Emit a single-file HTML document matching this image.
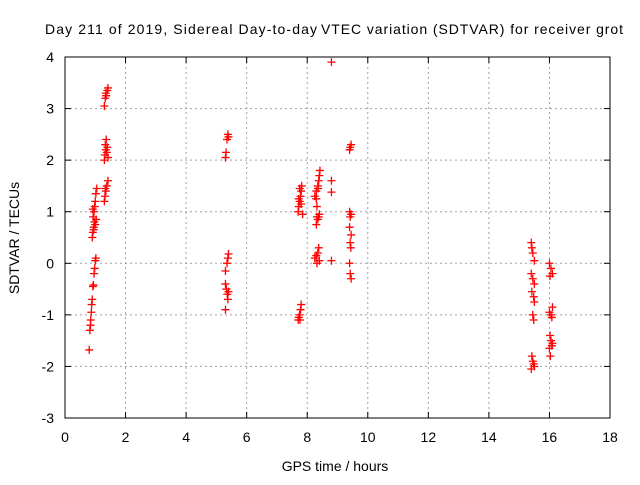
<!DOCTYPE html>
<html><head><meta charset="utf-8"><style>
body{margin:0;background:#fff;overflow:hidden}
svg text{font-family:"Liberation Sans",sans-serif;font-size:14px;fill:#000}
</style></head><body>
<svg id="chart" width="640" height="480" xmlns="http://www.w3.org/2000/svg">
<g>
<text x="45" y="34" textLength="272" lengthAdjust="spacing">Day 211 of 2019, Sidereal Day-to-day</text>
<text x="321" y="34" textLength="302" lengthAdjust="spacing">VTEC variation (SDTVAR) for receiver grot</text>
</g>
<text transform="translate(19,238) rotate(-90)" text-anchor="middle">SDTVAR / TECUs</text>
<text x="335" y="471" text-anchor="middle">GPS time / hours</text>
<g id="grid"></g>
<g id="ticks"></g>
<rect x="65" y="57" width="545" height="361" fill="none" stroke="#000" stroke-width="1"/>
<g id="points"></g>
</svg>
<script>
const xTicks=[0,2,4,6,8,10,12,14,16,18];
const yTicks=[-3,-2,-1,0,1,2,3,4];
const xVals=[0.80,0.82,0.84,0.85,0.87,0.88,0.9,0.92,0.94,0.96,0.98,1.0,1.02,0.9,0.92,0.95,0.97,0.93,0.96,0.98,1.0,1.02,1.05,0.95,1.0,1.03,0.92,
1.3,1.32,1.35,1.38,1.42,1.33,1.3,1.32,1.35,1.38,1.4,1.42,1.33,1.36,1.3,1.33,1.36,1.4,1.42,1.35,
5.3,5.32,5.35,5.38,5.4,5.3,5.35,5.38,5.4,5.3,5.33,5.36,5.38,5.3,5.4,
7.7,7.72,7.75,7.78,7.8,7.82,7.75,7.72,7.8,7.85,7.7,7.72,7.75,7.78,7.8,7.76,
8.25,8.3,8.35,8.38,8.4,8.42,8.3,8.36,8.32,8.3,8.35,8.38,8.4,8.32,8.25,8.3,8.35,8.38,8.4,8.32,
8.8,8.8,8.8,8.8,
9.4,9.45,9.42,9.4,9.42,9.45,9.4,9.45,9.42,9.44,9.4,9.42,9.45,
15.4,15.42,15.45,15.5,15.4,15.45,15.5,15.42,15.48,15.5,15.45,15.48,15.42,15.45,15.5,15.4,15.48,
16.0,16.05,16.1,16.02,16.0,16.05,16.08,16.1,16.02,16.05,16.08,16.1,16.0,16.03];
const yVals=[-1.68,-1.3,-1.2,-1.1,-0.95,-0.8,-0.7,-0.45,-0.42,-0.2,-0.1,0.05,0.1,0.5,0.6,0.7,0.8,0.9,1.0,1.1,1.2,1.35,1.45,0.65,0.75,0.85,1.05,
1.2,1.3,1.4,1.5,1.6,1.45,2.0,2.1,2.2,2.15,2.25,2.05,2.3,2.4,3.05,3.2,3.25,3.35,3.4,3.3,
2.05,2.15,2.4,2.5,2.45,-0.15,0.0,0.1,0.18,-0.4,-0.5,-0.6,-0.7,-0.9,-0.55,
1.0,1.1,1.2,1.3,1.4,1.5,1.45,1.25,1.15,0.95,-1.1,-1.05,-1.0,-0.9,-0.8,-1.1,
1.3,1.4,1.5,1.6,1.7,1.8,1.25,1.45,1.1,0.75,0.85,0.9,0.95,0.9,0.1,0.15,0.2,0.3,0.05,0.0,
3.9,1.6,1.38,0.05,
2.2,2.3,2.25,1.0,0.9,0.95,0.7,0.55,0.4,0.3,0.0,-0.2,-0.3,
0.4,0.3,0.2,0.05,-0.2,-0.3,-0.4,-0.55,-0.65,-0.75,-1.0,-1.1,-1.8,-1.9,-2.0,-2.05,-1.95,
0.0,-0.1,-0.2,-0.25,-0.95,-1.0,-1.05,-0.85,-1.4,-1.5,-1.6,-1.55,-1.65,-1.8];
const L=65,R=610,T=57,B=418;
const sx=v=>L+(v-0)/(18-0)*(R-L);
const sy=v=>B-(v+3)/7*(B-T);
const NS="http://www.w3.org/2000/svg";
function mk(tag,attrs,parent){const e=document.createElementNS(NS,tag);for(const k in attrs)e.setAttribute(k,attrs[k]);parent.appendChild(e);return e;}
const grid=document.getElementById('grid'),ticks=document.getElementById('ticks'),pts=document.getElementById('points');
xTicks.forEach(t=>{const x=sx(t);
 if(t>0&&t<18){const g=mk('line',{x1:x,x2:x,y1:T,y2:B,stroke:'#a0a0a0','stroke-dasharray':'2,3'},grid);
 
 }
 mk('line',{x1:x,x2:x,y1:B,y2:B-6,stroke:'#000'},ticks);
 mk('line',{x1:x,x2:x,y1:T,y2:T+6,stroke:'#000'},ticks);
 const tx=mk('text',{x:x,y:B+24,'text-anchor':'middle'},ticks);tx.textContent=t;
 
 
});
yTicks.forEach(t=>{const y=sy(t);
 if(t>-3&&t<4){const g=mk('line',{x1:L,x2:R,y1:y,y2:y,stroke:'#a0a0a0','stroke-dasharray':'2,3'},grid);
 
 }
 mk('line',{x1:L,x2:L+6,y1:y,y2:y,stroke:'#000'},ticks);
 mk('line',{x1:R,x2:R-6,y1:y,y2:y,stroke:'#000'},ticks);
 const tx=mk('text',{x:54,y:y+5,'text-anchor':'end'},ticks);tx.textContent=t;
 
 
});
xVals.forEach((xv,i)=>{const x=sx(xv),y=sy(yVals[i]);
 const p=mk('path',{d:`M${x-4},${y}H${x+4}M${x},${y-4}V${y+4}`,stroke:'#ff0000','stroke-width':1.3,fill:'none'},pts);
 
 
});
</script>
</body></html>
